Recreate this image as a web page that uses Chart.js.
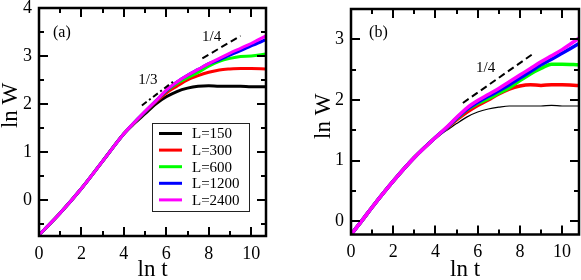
<!DOCTYPE html>
<html>
<head>
<meta charset="utf-8">
<script src="https://cdn.jsdelivr.net/npm/chart.js@4.4.1/dist/chart.umd.min.js"></script>
<style>
  html, body { margin: 0; padding: 0; background: #fff; }
  #wrap { position: relative; width: 581px; height: 280px; }
  #panelA { position: absolute; left: 0; top: 0; }
  #panelB { position: absolute; left: 290px; top: 0; }
</style>
</head>
<body>
<div id="wrap">
  <canvas id="panelA" width="290" height="280"></canvas>
  <canvas id="panelB" width="291" height="280"></canvas>
</div>
<script>
// etiquetas de las series (tamaño del sistema)
const sizeLabels = ['L=150', 'L=300', 'L=600', 'L=1200', 'L=2400'];
const sizeColors = ['#000000', '#ff0000', '#00ff00', '#0000ff', '#ff00ff'];

// panel (a): ln t y ln W
const lnT_a = [0, 1, 2, 3, 4, 4.5, 5, 5.5, 6, 6.5, 7, 7.5, 8, 8.5, 9, 9.5, 10, 10.7];
const lnW_a150  = [-0.73, -0.27, 0.24, 0.81, 1.38, 1.60, 1.80, 2.00, 2.15, 2.26, 2.33, 2.37, 2.38, 2.37, 2.37, 2.37, 2.36, 2.36];
const lnW_a300  = [-0.73, -0.27, 0.24, 0.81, 1.38, 1.61, 1.83, 2.04, 2.23, 2.37, 2.50, 2.59, 2.66, 2.71, 2.73, 2.74, 2.74, 2.73];
const lnW_a600  = [-0.73, -0.27, 0.24, 0.81, 1.38, 1.62, 1.84, 2.06, 2.27, 2.43, 2.55, 2.66, 2.79, 2.89, 2.95, 2.99, 3.00, 3.04];
const lnW_a1200 = [-0.73, -0.27, 0.24, 0.81, 1.38, 1.62, 1.84, 2.06, 2.28, 2.46, 2.60, 2.72, 2.84, 2.92, 3.02, 3.11, 3.21, 3.34];
const lnW_a2400 = [-0.73, -0.27, 0.24, 0.81, 1.38, 1.62, 1.85, 2.06, 2.29, 2.46, 2.60, 2.72, 2.84, 2.95, 3.06, 3.16, 3.26, 3.42];

// panel (b)
const lnT_b = [0, 0.5, 1, 2, 3, 4, 4.5, 5, 5.5, 6, 6.5, 7, 7.5, 8, 8.5, 9, 9.5, 10, 10.8];
const lnW_b150  = [-0.22, 0.00, 0.23, 0.66, 1.05, 1.38, 1.49, 1.61, 1.72, 1.80, 1.85, 1.88, 1.90, 1.90, 1.90, 1.90, 1.91, 1.90, 1.90];
const lnW_b300  = [-0.22, 0.00, 0.23, 0.66, 1.05, 1.38, 1.52, 1.67, 1.80, 1.91, 2.00, 2.10, 2.18, 2.23, 2.25, 2.24, 2.25, 2.25, 2.24];
const lnW_b600  = [-0.22, 0.00, 0.23, 0.66, 1.05, 1.38, 1.53, 1.69, 1.84, 1.94, 2.02, 2.11, 2.20, 2.32, 2.43, 2.52, 2.59, 2.59, 2.58];
const lnW_b1200 = [-0.22, 0.00, 0.23, 0.66, 1.05, 1.38, 1.53, 1.70, 1.85, 1.96, 2.06, 2.15, 2.25, 2.36, 2.47, 2.58, 2.67, 2.77, 2.93];
const lnW_b2400 = [-0.22, 0.00, 0.23, 0.66, 1.05, 1.38, 1.54, 1.71, 1.87, 1.99, 2.09, 2.19, 2.30, 2.41, 2.52, 2.63, 2.73, 2.83, 3.02];

// rectas de pendiente de referencia
const slope13_aX = [4.85, 6.4];
const slope13_aY = [1.97, 2.49];
const slope14_aX = [7.7, 9.5];
const slope14_aY = [2.95, 3.42];
const slope14_bX = [5.3, 8.7];
const slope14_bY = [1.95, 2.78];

// marcas de los ejes
const xTicks = [0, 2, 4, 6, 8, 10];
const yTicks_a = [0, 1, 2, 3, 4];
const yTicks_b = [0, 1, 2, 3];

const serif = "'Liberation Serif', 'DejaVu Serif', serif";

function toPoints(xs, ys) {
  return xs.map((x, i) => ({ x: x, y: ys[i] }));
}

// Dibuja el marco y las marcas hacia adentro en los cuatro lados
const frameTicks = {
  id: 'frameTicks',
  afterDatasetsDraw(chart) {
    const { ctx, chartArea: a, scales: { x, y } } = chart;
    ctx.save();
    ctx.strokeStyle = '#000';
    ctx.lineWidth = 2;
    ctx.beginPath();
    for (let v = Math.ceil(x.min); v <= x.max + 1e-9; v++) {
      const px = Math.round(x.getPixelForValue(v));
      const len = v % 2 === 0 ? 9 : 5;
      ctx.moveTo(px, a.bottom); ctx.lineTo(px, a.bottom - len);
      ctx.moveTo(px, a.top); ctx.lineTo(px, a.top + len);
    }
    for (let v = Math.ceil(y.min * 2) / 2; v <= y.max + 1e-9; v += 0.5) {
      const py = Math.round(y.getPixelForValue(v));
      const len = Number.isInteger(v) ? 9 : 5;
      ctx.moveTo(a.left, py); ctx.lineTo(a.left + len, py);
      ctx.moveTo(a.right, py); ctx.lineTo(a.right - len, py);
    }
    ctx.stroke();
    ctx.lineWidth = 2.5;
    ctx.strokeRect(a.left, a.top, a.right - a.left, a.bottom - a.top);
    ctx.restore();
  }
};

// Textos: (a), 1/3, 1/4 y el título vertical "ln W"
const notesPlugin = {
  id: 'notes',
  afterDatasetsDraw(chart, args, opts) {
    const { ctx, scales: { x, y } } = chart;
    ctx.save();
    ctx.fillStyle = '#000';
    ctx.textAlign = 'center';
    ctx.textBaseline = 'middle';
    (opts.items || []).forEach(n => {
      ctx.font = n.size + 'px ' + serif;
      ctx.fillText(n.text, x.getPixelForValue(n.x), y.getPixelForValue(n.y));
    });
    const t = opts.yTitle;
    if (t) {
      ctx.translate(t.px, y.getPixelForValue(t.y));
      ctx.rotate(-Math.PI / 2);
      ctx.font = '23px ' + serif;
      ctx.textBaseline = 'alphabetic';
      ctx.fillText(t.text, 0, 0);
    }
    ctx.restore();
  }
};

// Leyenda en caja dentro del área del gráfico
const boxLegend = {
  id: 'boxLegend',
  afterDraw(chart, args, opts) {
    if (!opts.show) return;
    const { ctx, chartArea: a } = chart;
    const left = a.left + 113, top = a.top + 115, w = 97, h = 88;
    ctx.save();
    ctx.fillStyle = '#fff';
    ctx.fillRect(left, top, w, h);
    ctx.strokeStyle = '#222';
    ctx.lineWidth = 1;
    ctx.strokeRect(left + 0.5, top + 0.5, w, h);
    ctx.font = '15px ' + serif;
    ctx.textBaseline = 'middle';
    sizeLabels.forEach((lab, i) => {
      const yy = top + 10.5 + i * 16.6;
      ctx.strokeStyle = sizeColors[i];
      ctx.lineWidth = 3;
      ctx.beginPath();
      ctx.moveTo(left + 7, yy); ctx.lineTo(left + 30, yy);
      ctx.stroke();
      ctx.fillStyle = '#000';
      ctx.fillText(lab, left + 40, yy + 1);
    });
    ctx.restore();
  }
};

function makePanel(id, cfg) {
  const series = [cfg.w150, cfg.w300, cfg.w600, cfg.w1200, cfg.w2400];
  const datasets = series.map((ys, i) => ({
    label: sizeLabels[i],
    data: toPoints(cfg.lnT, ys),
    borderColor: sizeColors[i],
    borderWidth: (i === 0 ? cfg.blackWidth : cfg.colorWidth),
    pointRadius: 0,
    cubicInterpolationMode: 'monotone',
    order: 10 - i
  }));
  cfg.guides.forEach(g => {
    datasets.push({
      label: g.label,
      data: toPoints(g.xs, g.ys),
      borderColor: '#000',
      borderWidth: 2,
      borderDash: g.dash,
      pointRadius: 0,
      order: 0
    });
  });

  const ctx = document.getElementById(id).getContext('2d');
  return new Chart(ctx, {
    type: 'line',
    data: { datasets: datasets },
    options: {
      responsive: false,
      animation: false,
      layout: { padding: { left: 0, right: cfg.padRight, top: cfg.padTop, bottom: 0 } },
      plugins: {
        legend: { display: false },
        tooltip: { enabled: false },
        notes: { items: cfg.notes, yTitle: cfg.yTitle },
        boxLegend: { show: cfg.legend }
      },
      scales: {
        x: {
          type: 'linear',
          min: 0,
          max: cfg.xMax,
          grid: { display: false, drawTicks: false, tickLength: 0 },
          border: { display: false },
          afterBuildTicks: s => { s.ticks = xTicks.map(v => ({ value: v })); },
          afterFit: s => { s.height = cfg.xHeight; s.paddingLeft = 0; s.paddingRight = 0; },
          ticks: { color: '#000', font: { family: serif, size: 18 }, padding: 7, maxRotation: 0 },
          title: { display: true, text: 'ln t', color: '#000', font: { family: serif, size: 23 }, padding: { top: 0, bottom: -4 } }
        },
        y: {
          type: 'linear',
          min: cfg.yMin,
          max: cfg.yMax,
          grid: { display: false, drawTicks: false, tickLength: 0 },
          border: { display: false },
          afterBuildTicks: s => { s.ticks = cfg.yTicks.map(v => ({ value: v })); },
          afterFit: s => { s.width = cfg.yWidth; s.paddingTop = 0; s.paddingBottom = 0; },
          ticks: { color: '#000', font: { family: serif, size: 18 }, padding: 7 },
          title: { display: false }
        }
      }
    },
    plugins: [frameTicks, notesPlugin, boxLegend]
  });
}

document.addEventListener('DOMContentLoaded', function () {
  makePanel('panelA', {
    lnT: lnT_a,
    w150: lnW_a150, w300: lnW_a300, w600: lnW_a600, w1200: lnW_a1200, w2400: lnW_a2400,
    blackWidth: 3, colorWidth: 3,
    xMax: 10.7, yMin: -0.75, yMax: 4,
    yTicks: yTicks_a,
    padRight: 24, padTop: 8,
    xHeight: 44, yWidth: 39,
    yTitle: { text: 'ln W', px: 17, y: 1.97 },
    legend: true,
    guides: [
      { label: '1/3', xs: slope13_aX, ys: slope13_aY, dash: [6, 3, 2, 3] },
      { label: '1/4', xs: slope14_aX, ys: slope14_aY, dash: [7, 4] }
    ],
    notes: [
      { text: '(a)', x: 1.08, y: 3.48, size: 16 },
      { text: '1/3', x: 5.13, y: 2.5, size: 15 },
      { text: '1/4', x: 8.14, y: 3.4, size: 15 }
    ]
  });

  makePanel('panelB', {
    lnT: lnT_b,
    w150: lnW_b150, w300: lnW_b300, w600: lnW_b600, w1200: lnW_b1200, w2400: lnW_b2400,
    blackWidth: 1.2, colorWidth: 3.5,
    xMax: 10.8, yMin: -0.22, yMax: 3.5,
    yTicks: yTicks_b,
    padRight: 2, padTop: 9,
    xHeight: 45.5, yWidth: 61,
    yTitle: { text: 'ln W', px: 40, y: 1.73 },
    legend: false,
    guides: [
      { label: '1/4', xs: slope14_bX, ys: slope14_bY, dash: [7, 4] }
    ],
    notes: [
      { text: '(b)', x: 1.3, y: 3.11, size: 16 },
      { text: '1/4', x: 6.38, y: 2.52, size: 15 }
    ]
  });
});
</script>
</body>
</html>
